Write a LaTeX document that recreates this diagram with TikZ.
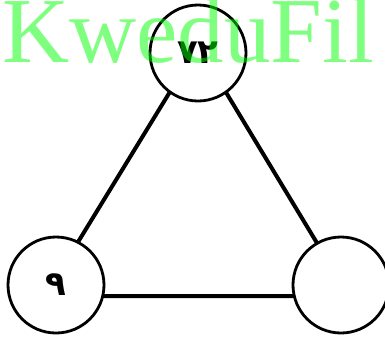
\documentclass[tikz,border=0pt]{standalone}
\usepackage{fontspec}
\setmainfont{Liberation Serif}
\newfontfamily\arabicfont[Script=Arabic]{DejaVu Sans}
\usetikzlibrary{backgrounds}

\tikzset{
  vertex/.style={circle, draw, line width=2.8bp, fill=white, minimum size=96bp,
    inner sep=0pt, font=\arabicfont\bfseries\fontsize{34bp}{36bp}\selectfont},
  edge/.style={line width=4bp},
  watermark/.style={text=green, text opacity=.5, inner sep=0pt, anchor=base west,
    font=\fontsize{93bp}{100bp}\selectfont}
}

\begin{document}
\begin{tikzpicture}[x=1bp, y=-1bp]
    \useasboundingbox (0,0) rectangle (385,337);
    \node[vertex] (top) at (198,53) {٧٢};
    \node[vertex] (left) at (56,285) {٩};
    \node[vertex] (right) at (341,285) {};
    \begin{scope}[on background layer]
      \draw[edge] ([yshift=7bp]top.center) -- ([xshift=-11bp, yshift=-11bp]left.center)
        -- ([xshift=8bp, yshift=-11bp]right.center) -- cycle;
    \end{scope}
    \node[watermark] (mark) at (2,62) {KweduFil};
  \end{tikzpicture}
\end{document}
